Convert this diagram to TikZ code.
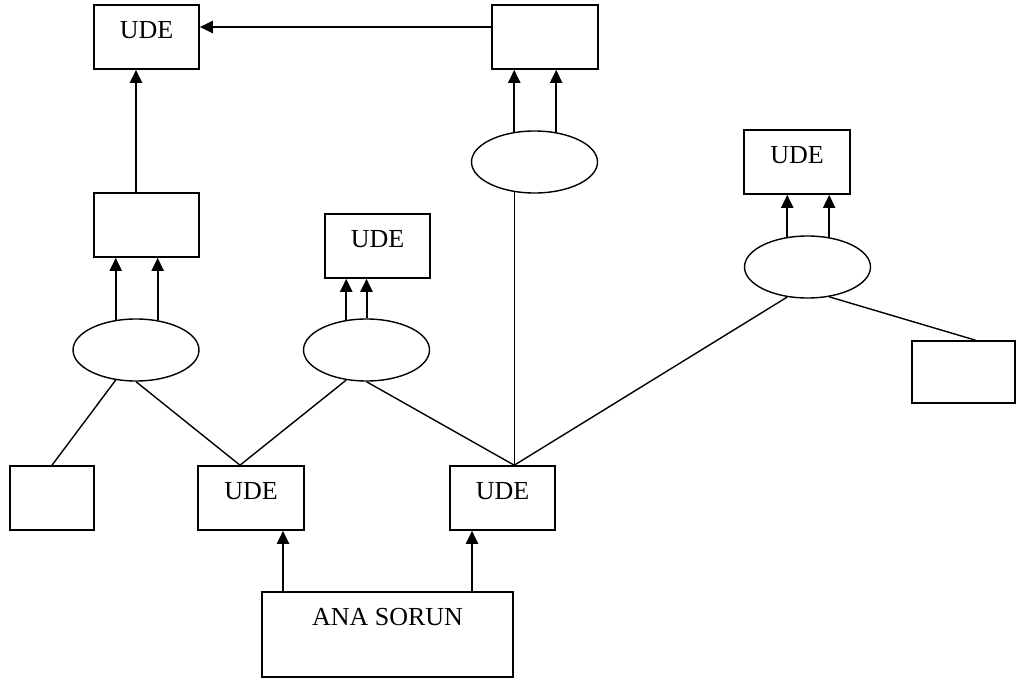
\documentclass[tikz,border=0pt]{standalone}
\usepackage{fontspec}
\setmainfont{Liberation Serif}
\usetikzlibrary{arrows.meta,shapes.geometric}
\begin{document}
\begin{tikzpicture}[x=1pt,y=-1pt,>={Triangle[length=13pt,width=12pt]},line width=1.4pt,
  box/.style={draw,line width=1.6pt,minimum width=105pt,minimum height=64pt,inner sep=0pt,text depth=14pt,font=\fontsize{26}{31}\selectfont},
  oval/.style={draw,ellipse,minimum width=126pt,minimum height=62pt,inner sep=0pt},
  ok/.style={->,line width=2pt}]
\useasboundingbox (0,0) rectangle (1016,682);
% kutular
\node[box] (u1) at (146.5,37) {UDE};
\node[box,minimum width=106pt] (b1) at (545,37) {};
\node[box] (b2) at (146.5,225) {};
\node[box] (u2) at (377.5,246) {UDE};
\node[box,minimum width=106pt] (u3) at (797,162) {UDE};
\node[box,minimum width=103pt,minimum height=62pt] (b3) at (963.5,372) {};
\node[box,minimum width=84pt] (b4) at (52,498) {};
\node[box,minimum width=106pt] (u4) at (251,498) {UDE};
\node[box] (u5) at (502.5,498) {UDE};
\node[box,minimum width=251pt,minimum height=85pt,text depth=35pt] (ana) at (387.5,634.5) {ANA SORUN};
% elipsler
\node[oval] (e1) at (136,350) {};
\node[oval] (e2) at (366.5,350) {};
\node[oval] (e3) at (534.5,162) {};
\node[oval] (e4) at (807.5,267) {};
% oklar
\draw[ok] ([yshift=10pt]b1.west) -- ([yshift=10pt]b1.west -| u1.east);
\draw[ok] (b2.north -| e1) -- (u1.south -| e1);
\foreach \e/\b in {e1/b2,e3/b1,e4/u3}{
  \draw[ok] (\e.124) -- (\e.124 |- \b.south);
  \draw[ok] (\e.54) -- (\e.54 |- \b.south);
}
\draw[ok] (e2.124) -- (e2.124 |- u2.south);
\draw[ok] (e2.north) -- (e2.north |- u2.south);
\draw[ok] ([xshift=-104.5pt]ana.north) -- ([xshift=-104.5pt]ana.north |- u4.south);
\draw[ok] ([xshift=84.5pt]ana.north) -- ([xshift=84.5pt]ana.north |- u5.south);
% cizgiler
\coordinate (u4t) at ([xshift=-11pt]u4.north);
\coordinate (u5t) at (e3.236 |- u5.north);
\draw (b4.north) -- (e1.236);
\draw (e1.south) -- (u4t);
\draw (u4t) -- (e2.236);
\draw (e2.south) -- (u5t);
\draw (e3.236) -- (u5t);
\draw (e4.236) -- (u5t);
\draw (e4.306) -- ([xshift=12pt]b3.north);
\end{tikzpicture}
\end{document}
